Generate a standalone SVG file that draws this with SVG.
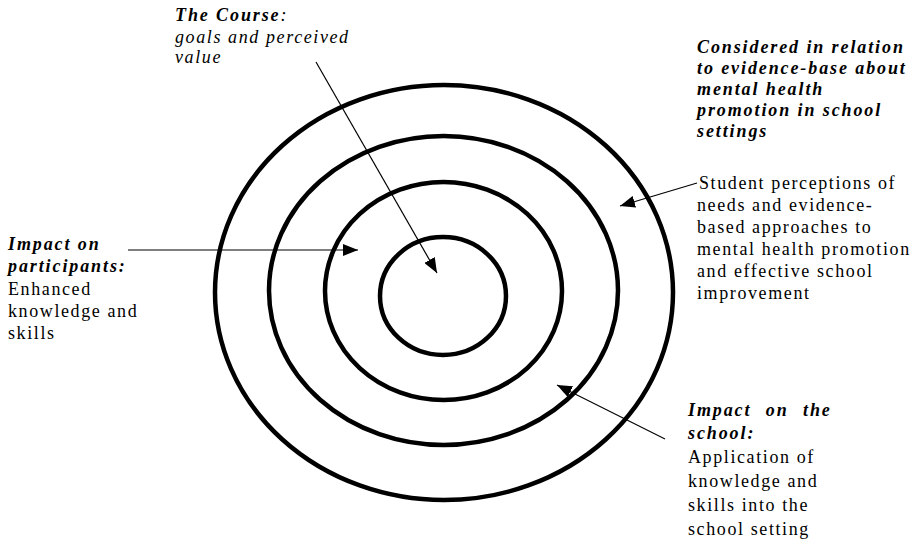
<svg xmlns="http://www.w3.org/2000/svg" width="915" height="546" viewBox="0 0 915 546">
<style>
.ring{fill:none;stroke:#000;stroke-width:4.5}
.con{stroke:#000;stroke-width:1.2;fill:none;marker-end:url(#ah)}
text{font-family:"Liberation Serif","Times New Roman",serif;font-size:18px;fill:#000;letter-spacing:1.6px}
.h{font-weight:bold;font-style:italic;letter-spacing:1.9px}
.i{font-style:italic}
</style>
<defs>
<marker id="ah" markerUnits="userSpaceOnUse" markerWidth="16" markerHeight="12" refX="15" refY="6" orient="auto">
<path d="M0,0 L15,6 L0,12 z" fill="#000"/>
</marker>
</defs>
<rect width="915" height="546" fill="#fff"/>
<g id="rings">
<g id="ring-outer"><ellipse class="ring" cx="444" cy="292.5" rx="229" ry="207.5"/></g>
<g id="ring-school"><ellipse class="ring" cx="443.5" cy="290.5" rx="174.5" ry="154.5"/></g>
<g id="ring-participants"><ellipse class="ring" cx="443.5" cy="291" rx="118.5" ry="109"/></g>
<g id="ring-course"><ellipse class="ring" cx="443" cy="296" rx="63" ry="59"/></g>
</g>
<g id="connectors">
<line class="con" x1="316" y1="62" x2="437" y2="273"/>
<line class="con" x1="128" y1="250" x2="358" y2="250"/>
<line class="con" x1="697" y1="183" x2="620" y2="206"/>
<line class="con" x1="665" y1="439" x2="557" y2="385"/>
</g>
<g id="label-course">
<text x="175" y="21" class="h">The Course<tspan font-weight="normal">:</tspan></text>
<text x="175" y="43" class="i">goals and perceived</text>
<text x="175" y="63" class="i">value</text>
</g>
<g id="label-evidence">
<text x="697" y="53" class="h">Considered in relation</text>
<text x="697" y="74" class="h">to evidence-base about</text>
<text x="697" y="95" class="h">mental health</text>
<text x="697" y="116" class="h">promotion in school</text>
<text x="697" y="137" class="h">settings</text>
<text x="699" y="189">Student perceptions of</text>
<text x="697" y="211">needs and evidence-</text>
<text x="697" y="233">based approaches to</text>
<text x="697" y="255">mental health promotion</text>
<text x="697" y="277">and effective school</text>
<text x="697" y="299">improvement</text>
</g>
<g id="label-participants">
<text x="8" y="250" class="h">Impact on</text>
<text x="8" y="272" class="h">participants:</text>
<text x="8" y="295">Enhanced</text>
<text x="8" y="317">knowledge and</text>
<text x="8" y="339">skills</text>
</g>
<g id="label-school">
<text x="688" y="416" class="h" word-spacing="8">Impact on the</text>
<text x="688" y="439" class="h">school:</text>
<text x="688" y="463">Application of</text>
<text x="688" y="487">knowledge and</text>
<text x="688" y="511">skills into the</text>
<text x="688" y="535">school setting</text>
</g>
</svg>
